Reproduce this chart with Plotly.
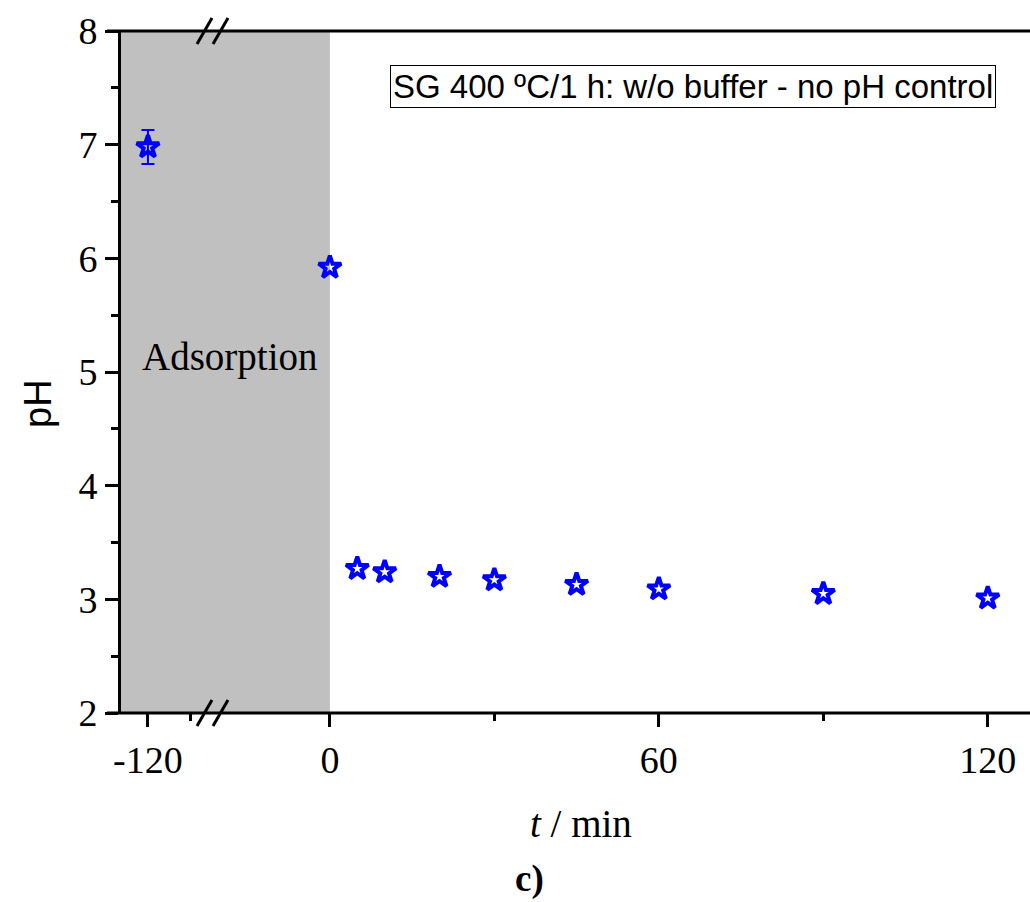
import plotly.graph_objects as go

# ---- data ----
time_min = [-120, 0, 5, 10, 20, 30, 45, 60, 90, 120]
ph_values = [6.98, 5.92, 3.27, 3.24, 3.20, 3.17, 3.13, 3.09, 3.05, 3.01]
ph_errors = [0.15, 0, 0, 0, 0, 0, 0, 0, 0, 0]

x_major_left = [-120]
x_minor_left = [-90]
x_major_right = [0, 60, 120]
x_minor_right = [30, 90]
y_ticks = [2, 3, 4, 5, 6, 7, 8]

legend_text = "SG 400 ºC/1 h: w/o buffer - no pH control"

# ---- layout geometry ----
W, H = 1030, 902
ML, MR, MT, MB = 121, 0, 31, 189
PW, PH = W - ML - MR, H - MT - MB
break_px = 212
d = (break_px - ML) / PW
left_range = [-138.8, -75.3]
right_range = [-21.5, 127.7]

def px_x(px):
    return (px - ML) / PW

def px_y(py):
    return (H - MB - py) / PH

left_idx = [i for i, t in enumerate(time_min) if t < -60]
right_idx = [i for i, t in enumerate(time_min) if t >= -60]

marker = dict(symbol="star-open", size=17, color="#0000ff",
              line=dict(width=4, color="#0000ff"))

fig = go.Figure()
fig.add_trace(go.Scatter(
    x=[time_min[i] for i in left_idx], y=[ph_values[i] for i in left_idx],
    error_y=dict(type="data", array=[ph_errors[i] for i in left_idx],
                 color="#0000ff", thickness=2, width=6.5),
    mode="markers", marker=marker, xaxis="x", yaxis="y", showlegend=False))
fig.add_trace(go.Scatter(
    x=[time_min[i] for i in right_idx], y=[ph_values[i] for i in right_idx],
    mode="markers", marker=marker, xaxis="x2", yaxis="y", showlegend=False))

tickfont = dict(family="Liberation Serif", size=38, color="black")
axcommon = dict(showgrid=False, zeroline=False, showline=False,
                ticks="outside", ticklen=13, tickwidth=2.5, tickcolor="black",
                tickfont=tickfont)

fig.update_layout(
    width=W, height=H,
    margin=dict(l=ML, r=MR, t=MT, b=MB),
    paper_bgcolor="white", plot_bgcolor="white",
    xaxis=dict(domain=[0, d], range=left_range, tickvals=x_major_left,
               ticktext=[str(v) for v in x_major_left], anchor="y",
               minor=dict(tickvals=x_minor_left, ticks="outside", ticklen=7,
                          tickwidth=2.5, tickcolor="black"),
               **axcommon),
    xaxis2=dict(domain=[d, 1], range=right_range, tickvals=x_major_right,
                ticktext=[str(v) for v in x_major_right], anchor="y",
                minor=dict(tickvals=x_minor_right, ticks="outside", ticklen=7,
                           tickwidth=2.5, tickcolor="black"),
                **axcommon),
    yaxis=dict(range=[2, 8], tickvals=y_ticks, anchor="x",
               showgrid=False, zeroline=False, showline=True, linewidth=3,
               linecolor="black", ticks="outside", ticklen=13, tickwidth=2.5,
               tickcolor="black", tickfont=tickfont,
               minor=dict(dtick=0.5, ticks="outside", ticklen=7, tickwidth=2.5,
                          tickcolor="black")),
)

shapes = [
    dict(type="rect", xref="x domain", yref="y domain", x0=0, x1=1, y0=0, y1=1,
         fillcolor="#c0c0c0", line=dict(width=0), layer="below"),
    dict(type="rect", xref="x2", yref="y domain", x0=right_range[0], x1=0,
         y0=0, y1=1, fillcolor="#c0c0c0", line=dict(width=0), layer="below"),
    # top and bottom axis lines (extend left of y-axis)
    dict(type="line", xref="paper", yref="paper", x0=px_x(107), x1=1, y0=0, y1=0,
         line=dict(color="black", width=3)),
    dict(type="line", xref="paper", yref="paper", x0=px_x(107), x1=1, y0=1, y1=1,
         line=dict(color="black", width=3)),
]
# break marks
for base_y in (H - MB, MT):
    for off in (-15, 1):
        shapes.append(dict(type="line", xref="paper", yref="paper",
                           x0=px_x(break_px + off), y0=px_y(base_y + 13),
                           x1=px_x(break_px + off + 15), y1=px_y(base_y - 13),
                           line=dict(color="black", width=3)))
fig.update_layout(shapes=shapes)

annotations = [
    dict(text=legend_text, xref="paper", yref="paper", x=px_x(692.5), y=px_y(86),
         showarrow=False, font=dict(family="Liberation Sans", size=33, color="black"),
         bordercolor="black", borderwidth=1, borderpad=2, bgcolor="white",
         xanchor="center", yanchor="middle"),
    dict(text="Adsorption", xref="paper", yref="paper", x=px_x(230), y=px_y(357),
         showarrow=False, font=dict(family="Liberation Serif", size=39, color="black"),
         xanchor="center", yanchor="middle"),
    dict(text="pH", xref="paper", yref="paper", x=px_x(38), y=px_y(404),
         textangle=-90, showarrow=False,
         font=dict(family="Liberation Sans", size=38, color="black"),
         xanchor="center", yanchor="middle"),
    dict(text="<i>t</i> / min", xref="paper", yref="paper", x=px_x(581), y=px_y(823),
         showarrow=False, font=dict(family="Liberation Serif", size=39, color="black"),
         xanchor="center", yanchor="middle"),
    dict(text="<b>c)</b>", xref="paper", yref="paper", x=px_x(529), y=px_y(901),
         showarrow=False, font=dict(family="Liberation Serif", size=37, color="black"),
         xanchor="center", yanchor="bottom", borderpad=0),
]
fig.update_layout(annotations=annotations)

fig.write_html("out.html")
